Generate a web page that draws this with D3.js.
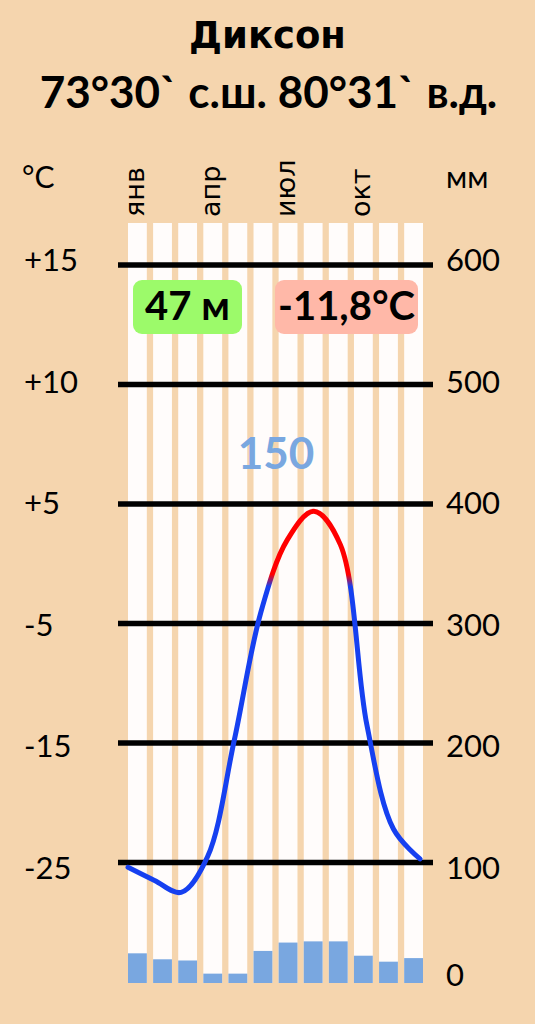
<!DOCTYPE html>
<html><head><meta charset="utf-8">
<script src="https://cdn.jsdelivr.net/npm/d3@7"></script>
<style>
html,body{margin:0;padding:0;background:#F5D5AE;}
svg{display:block;font-family:Lato,"Open Sans",sans-serif;}
</style></head>
<body>
<svg id="chart" width="535" height="1024"></svg>
<script>
// ---- data ----
const months = ["янв","фев","мар","апр","май","июн","июл","авг","сен","окт","ноя","дек"];
const shownMonths = ["янв","апр","июл","окт"];
const temperature = [-25.4,-26.5,-27.5,-24.5,-14.8,-4.1,2.0,4.4,1.6,-13.5,-22.2,-24.7];
const precipitation = [24,19,18,7,7,26,33,34,34,22,17,20];
const mmTicks = [600,500,400,300,200,100];
const tempTickLabels = ["+15","+10","+5","-5","-15","-25"];
const zeroLabel = "0";
const titleLines = ["Диксон","73°30` с.ш. 80°31` в.д."];
const altitudeLabel = "47 м";
const meanTempLabel = "-11,8°C";
const annualPrecipLabel = "150";
const warmThreshold = -1.4;

// ---- layout ----
const svg = d3.select("#chart");
const W = 535, H = 1024;
svg.append("rect").attr("width",W).attr("height",H).attr("fill","#F5D5AE");

const plotTop = 223, plotLeft = 128, plotRight = 423;
const yMM = d3.scaleLinear().domain([0,600]).range([982,265]);
// temperature mapped onto mm axis: -25 -> 100, +5 -> 400
const tToMM = d3.scaleLinear().domain([-25,5]).range([100,400]);
const yT = t => yMM(tToMM(t));
// labels drift slightly relative to the grid lines
const labelY = d => yMM(d) + (350 - d)/50 + 11;

const x = d3.scaleBand().domain(months).range([plotLeft,plotRight]).paddingInner(0.25).paddingOuter(0);
const xLine = d3.scalePoint().domain(months).range([128,420]).padding(0);

// title
svg.append("text").attr("x",W/2).attr("y",48).attr("text-anchor","middle")
  .attr("font-family","'DejaVu Sans',sans-serif")
  .attr("font-size",37).attr("font-weight",700).attr("fill","#000").text(titleLines[0]);
svg.append("text").attr("x",W/2+1).attr("y",108).attr("text-anchor","middle")
  .attr("font-size",44).attr("font-weight",700).attr("fill","#000").text(titleLines[1]);

// white columns
svg.append("g").selectAll("rect").data(months).join("rect")
  .attr("x",d=>x(d)).attr("width",x.bandwidth())
  .attr("y",plotTop).attr("height",yMM(0)-plotTop+1)
  .attr("fill","#FFFCFB");

// precipitation bars
svg.append("g").selectAll("rect").data(precipitation).join("rect")
  .attr("x",(d,i)=>x(months[i])).attr("width",x.bandwidth())
  .attr("y",d=>yMM(d)).attr("height",d=>yMM(0)-yMM(d)+1)
  .attr("fill","#79A7E0");

// grid lines
svg.append("g").selectAll("line").data(mmTicks).join("line")
  .attr("x1",118).attr("x2",433).attr("y1",d=>yMM(d)).attr("y2",d=>yMM(d))
  .attr("stroke","#000").attr("stroke-width",5.5);

// left labels
svg.append("g").selectAll("text").data(mmTicks).join("text")
  .attr("x",24).attr("y",d=>labelY(d))
  .attr("font-size",31).attr("fill","#000").text((d,i)=>tempTickLabels[i]);
// right labels
svg.append("g").selectAll("text").data(mmTicks).join("text")
  .attr("x",446).attr("y",d=>labelY(d))
  .attr("font-size",31).attr("fill","#000").text(d=>d);
svg.append("text").attr("x",446).attr("y",986)
  .attr("font-size",31).attr("fill","#000").text(zeroLabel);

// unit labels
svg.append("text").attr("x",22).attr("y",188).attr("font-size",30).attr("fill","#000").text("°C");
svg.append("text").attr("x",446).attr("y",188).attr("font-size",30).attr("fill","#000").text("мм");

// month labels
svg.append("g").selectAll("text").data(shownMonths).join("text")
  .attr("transform",d=>`translate(${x(d)+x.bandwidth()/2+7},217) rotate(-90)`)
  .attr("font-family","'DejaVu Sans',sans-serif")
  .attr("font-size",27).attr("fill","#000").text(d=>d);

// badges
function badge(cx, w, label, fill){
  const g = svg.append("g");
  g.append("rect").attr("x",cx-w/2).attr("y",280).attr("width",w).attr("height",54)
    .attr("rx",9).attr("fill",fill);
  g.append("text").attr("x",cx).attr("y",320).attr("text-anchor","middle")
    .attr("font-size",40).attr("font-weight",700).attr("fill","#000").text(label);
}
badge(187.5,109,altitudeLabel,"#9CFA6A");
badge(346.5,143,meanTempLabel,"#FFB8A8");

// annual precipitation
svg.append("text").attr("x",276).attr("y",469).attr("text-anchor","middle")
  .attr("font-size",44).attr("font-weight",700).attr("fill","#79A7E0").text(annualPrecipLabel);

// temperature curve
const grad = svg.append("defs").append("linearGradient").attr("id","tg")
  .attr("gradientUnits","userSpaceOnUse").attr("x1",0).attr("x2",0)
  .attr("y1",yT(warmThreshold)+6).attr("y2",yT(warmThreshold)-6);
grad.append("stop").attr("offset","0%").attr("stop-color","#1640F0");
grad.append("stop").attr("offset","100%").attr("stop-color","#FF0000");

const line = d3.line().x((d,i)=>xLine(months[i])).y(d=>yT(d)).curve(d3.curveCatmullRom.alpha(0.5));
svg.append("path").datum(temperature).attr("d",line)
  .attr("fill","none").attr("stroke","url(#tg)").attr("stroke-width",5)
  .attr("stroke-linecap","round").attr("stroke-linejoin","round");
</script>
</body></html>
